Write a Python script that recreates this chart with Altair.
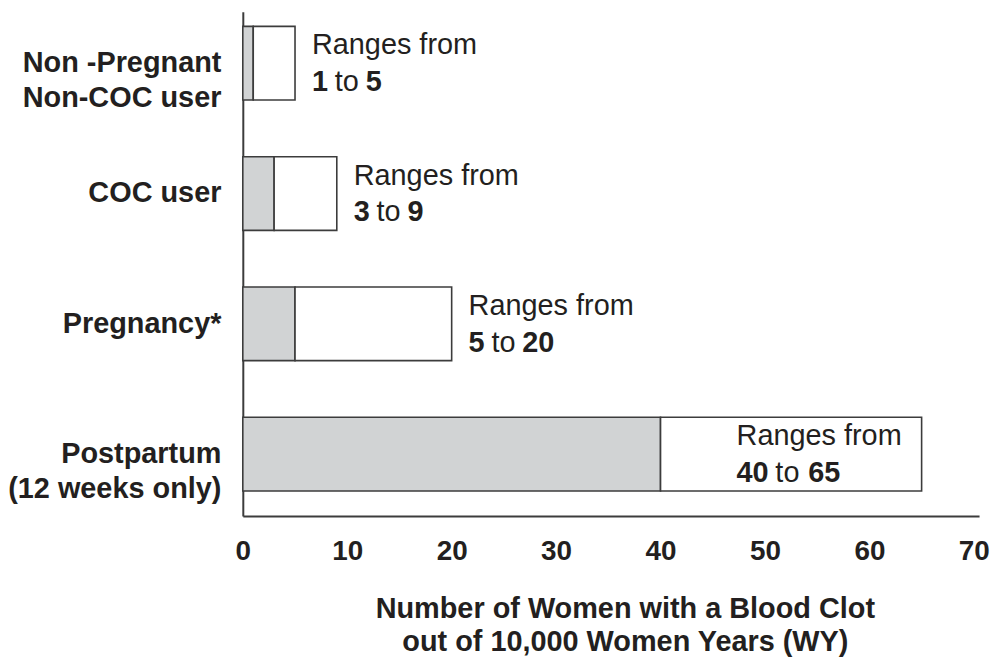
import altair as alt
import pandas as pd

categories = ["Non -Pregnant\nNon-COC user", "COC user", "Pregnancy*", "Postpartum\n(12 weeks only)"]
low = [1, 3, 5, 40]
high = [5, 9, 20, 65]
x_ticks = [0, 10, 20, 30, 40, 50, 60, 70]
x_title = ["Number of Women with a Blood Clot", "out of 10,000 Women Years (WY)"]

df = pd.DataFrame({"cat": categories, "low": low, "high": high})

FONT = "Liberation Sans"
INK = "#231f20"
EDGE = "#3c3c3c"

xscale = alt.Scale(domain=[0, 70.5], nice=False, zero=True)
xaxis = alt.Axis(
    values=x_ticks, ticks=False, grid=False, domain=True, domainColor=EDGE, domainWidth=2,
    labelFont=FONT, labelFontSize=28, labelFontWeight="bold", labelColor=INK,
    labelPadding=22, labelFlush=False, labelOverlap=False,
    title=x_title, titleFont=FONT, titleFontSize=29, titleFontWeight="bold", titleColor=INK,
    titleLineHeight=33, titlePadding=29, titleX=384,
)
y = alt.Y(
    "cat:N", sort=categories,
    scale=alt.Scale(paddingInner=0.435, paddingOuter=0.153, align=0.37),
    axis=alt.Axis(
        title=None, ticks=False, grid=False, domain=True, domainColor=EDGE, domainWidth=2,
        labelExpr="split(datum.label, '\\n')", labelFont=FONT, labelFontSize=29,
        labelFontWeight="bold", labelColor=INK, labelPadding=22, labelLineHeight=35,
        labelLimit=400,
    ),
)

base = alt.Chart(df).transform_calculate(zero="0")

gray = base.mark_bar(fill="#d1d3d4", stroke=EDGE, strokeWidth=1.6).encode(
    x=alt.X("zero:Q", scale=xscale, axis=xaxis), x2="low:Q", y=y
)
white = base.mark_bar(fill="white", stroke=EDGE, strokeWidth=1.6).encode(
    x=alt.X("low:Q", scale=xscale), x2="high:Q", y=y
)

common = dict(align="left", baseline="middle", font=FONT, fontSize=29, color=INK)


def labels(filt, d0, d1, d2):
    tb = base.transform_filter(filt)
    xe = alt.X("high:Q", scale=xscale)
    a = tb.mark_text(dx=d0, dy=-18, **common).encode(x=xe, y=y, text=alt.value("Ranges from"))
    b = tb.mark_text(dx=d0, dy=19, fontWeight="bold", **common).encode(x=xe, y=y, text="low:Q")
    c = tb.mark_text(dx=d1, dy=19, **common).encode(x=xe, y=y, text=alt.value("to"))
    d = tb.mark_text(dx=d2, dy=19, fontWeight="bold", **common).encode(x=xe, y=y, text="high:Q")
    return [a, b, c, d]


outside = labels("datum.high < 50", 17, 40, 71)
inside = labels("datum.high >= 50", -186, -147, -114)

chart = alt.layer(gray, white, *outside, *inside).properties(
    width=740, height=507,
    autosize=alt.AutoSizeParams(type="none"),
    padding={"left": 236, "top": 2, "right": 11, "bottom": 144},
    background="white",
).configure_view(stroke=None)

chart.save("out.html", embed_options={"renderer": "svg", "actions": False})
